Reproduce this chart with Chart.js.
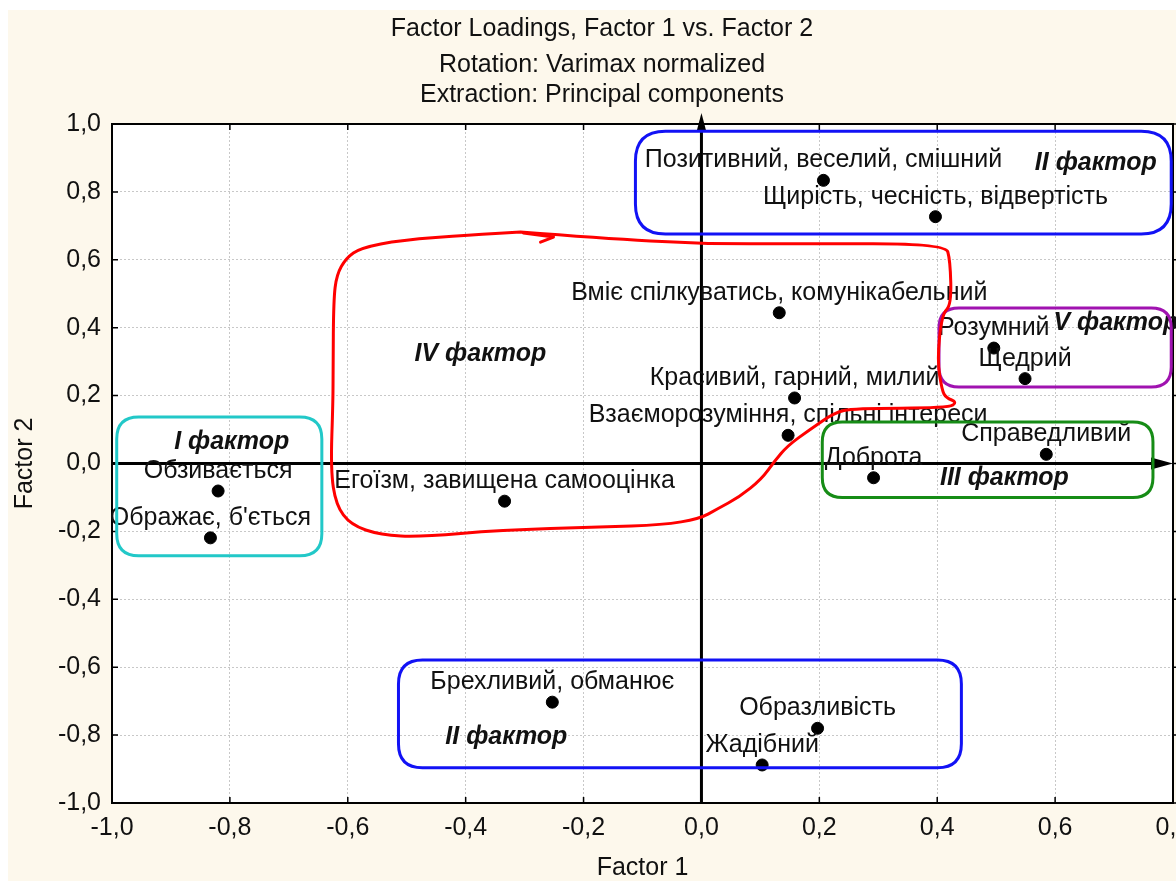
<!DOCTYPE html>
<html>
<head>
<meta charset="utf-8">
<script src="https://cdn.jsdelivr.net/npm/chart.js@4.4.1/dist/chart.umd.min.js"></script>
<style>
html, body { margin: 0; padding: 0; overflow: hidden; background: #fff; }
</style>
</head>
<body>
<canvas id="loadingsChart" width="1204" height="881"></canvas>
<script>
// variables (points) and their loadings on Factor 1 / Factor 2
const pointNames = [
    'Обзивається',
    "Ображає, б'ється",
    'Егоїзм, завищена самооцінка',
    'Брехливий, обманює',
    'Образливість',
    'Жадібний',
    'Позитивний, веселий, смішний',
    'Щирість, чесність, відвертість',
    'Вміє спілкуватись, комунікабельний',
    'Розумний',
    'Щедрий',
    'Красивий, гарний, милий',
    'Взаєморозуміння, спільні інтереси',
    'Справедливий',
    'Доброта'
];
const factor1 = [-0.820, -0.833, -0.334, -0.253, 0.197, 0.103, 0.207, 0.397, 0.132, 0.496, 0.549, 0.158, 0.147, 0.585, 0.292];
const factor2 = [-0.081, -0.219, -0.111, -0.703, -0.780, -0.888, 0.834, 0.727, 0.444, 0.340, 0.250, 0.193, 0.083, 0.027, -0.042];

const xTicks = [-1.0, -0.8, -0.6, -0.4, -0.2, 0.0, 0.2, 0.4, 0.6, 0.8];
const yTicks = [-1.0, -0.8, -0.6, -0.4, -0.2, 0.0, 0.2, 0.4, 0.6, 0.8, 1.0];

// hand drawn factor groups (data units)
const factorNames = ['I фактор', 'II фактор', 'III фактор', 'IV фактор', 'V фактор', 'II фактор'];
const factorX = [-0.797, 0.669, 0.514, -0.375, 0.703, -0.331];
const factorY = [0.063, 0.885, -0.043, 0.323, 0.414, -0.806];

const boxes = [
    { color: '#22c8c8', x0: -0.992, x1: -0.644, y0: 0.137, y1: -0.272, r: 22 },
    { color: '#1212f5', x0: -0.112, x1: 0.797, y0: 0.979, y1: 0.676, r: 30 },
    { color: '#a012b0', x0: 0.403, x1: 0.797, y0: 0.458, y1: 0.225, r: 20 },
    { color: '#168c16', x0: 0.205, x1: 0.766, y0: 0.122, y1: -0.100, r: 20 },
    { color: '#1212f5', x0: -0.514, x1: 0.441, y0: -0.579, y1: -0.896, r: 24 }
];

const redX = [-0.307, -0.171, -0.002, 0.168, 0.414, 0.422, 0.424, 0.408, 0.400, 0.408, 0.415, 0.434, 0.419,
    0.258, 0.225, 0.183, 0.146, 0.124, 0.102, 0.064, 0.027, -0.003, -0.066, -0.171, -0.341, -0.476, -0.544,
    -0.595, -0.620, -0.629, -0.625, -0.625, -0.624, -0.619, -0.603, -0.578, -0.510, -0.392, -0.307];
const redY = [0.682, 0.664, 0.647, 0.647, 0.647, 0.599, 0.467, 0.440, 0.305, 0.216, 0.193, 0.181, 0.163,
    0.163, 0.149, 0.099, 0.052, 0.007, -0.046, -0.099, -0.134, -0.163, -0.181, -0.187, -0.196, -0.216, -0.211,
    -0.181, -0.122, -0.019, 0.187, 0.284, 0.482, 0.555, 0.605, 0.635, 0.658, 0.673, 0.682];
const hookX = [-0.302, -0.251, -0.273];
const hookY = [0.679, 0.667, 0.652];

const fmt = v => v.toFixed(1).replace('.', ',');
const FONT = "'Liberation Sans', Arial, sans-serif";
const FS = 25;

function roundBox(ctx, x0, y0, x1, y1, r) {
    ctx.beginPath();
    ctx.moveTo(x0 + r, y0);
    ctx.lineTo(x1 - r, y0);
    ctx.quadraticCurveTo(x1, y0, x1, y0 + r);
    ctx.lineTo(x1, y1 - r);
    ctx.quadraticCurveTo(x1, y1, x1 - r, y1);
    ctx.lineTo(x0 + r, y1);
    ctx.quadraticCurveTo(x0, y1, x0, y1 - r);
    ctx.lineTo(x0, y0 + r);
    ctx.quadraticCurveTo(x0, y0, x0 + r, y0);
    ctx.closePath();
}

// smooth stroke through points (midpoint quadratic)
function smoothPath(ctx, pts) {
    ctx.beginPath();
    ctx.moveTo(pts[0][0], pts[0][1]);
    for (let i = 1; i < pts.length - 1; i++) {
        const mx = (pts[i][0] + pts[i + 1][0]) / 2;
        const my = (pts[i][1] + pts[i + 1][1]) / 2;
        ctx.quadraticCurveTo(pts[i][0], pts[i][1], mx, my);
    }
    const last = pts[pts.length - 1];
    ctx.lineTo(last[0], last[1]);
}

const decor = {
    id: 'decor',
    beforeDraw(chart) {
        const ctx = chart.ctx;
        const a = chart.chartArea;
        ctx.save();
        ctx.fillStyle = '#ffffff';
        ctx.fillRect(0, 0, chart.width, chart.height);
        ctx.fillStyle = '#fdf8ec';
        ctx.fillRect(8, 10, chart.width - 8, chart.height - 10);
        ctx.fillStyle = '#ffffff';
        ctx.fillRect(a.left, a.top, a.right - a.left, a.bottom - a.top);
        ctx.restore();
    },
    beforeDatasetsDraw(chart) {
        const ctx = chart.ctx;
        const a = chart.chartArea;
        const xs = chart.scales.x, ys = chart.scales.y;
        ctx.save();
        // frame
        ctx.strokeStyle = '#000';
        ctx.lineWidth = 2;
        ctx.strokeRect(a.left, a.top, a.right - a.left, a.bottom - a.top);
        // inward ticks
        ctx.lineWidth = 1.5;
        ctx.beginPath();
        xTicks.forEach(v => {
            const px = xs.getPixelForValue(v);
            ctx.moveTo(px, a.bottom); ctx.lineTo(px, a.bottom - 6);
            ctx.moveTo(px, a.top); ctx.lineTo(px, a.top + 6);
        });
        yTicks.forEach(v => {
            const py = ys.getPixelForValue(v);
            ctx.moveTo(a.left, py); ctx.lineTo(a.left + 6, py);
            ctx.moveTo(a.right, py); ctx.lineTo(a.right + 6, py);
        });
        ctx.stroke();
        // centre axes with arrows
        const x0 = xs.getPixelForValue(0), y0 = ys.getPixelForValue(0);
        ctx.lineWidth = 3;
        ctx.beginPath();
        ctx.moveTo(a.left, y0); ctx.lineTo(a.right - 18, y0);
        ctx.moveTo(x0, a.bottom); ctx.lineTo(x0, a.top - 4);
        ctx.stroke();
        ctx.fillStyle = '#000';
        ctx.beginPath();
        ctx.moveTo(a.right, y0);
        ctx.lineTo(a.right - 22, y0 - 6);
        ctx.lineTo(a.right - 22, y0 + 6);
        ctx.closePath();
        ctx.fill();
        ctx.beginPath();
        ctx.moveTo(x0, a.top - 11);
        ctx.lineTo(x0 - 5, a.top + 8);
        ctx.lineTo(x0 + 5, a.top + 8);
        ctx.closePath();
        ctx.fill();
        ctx.restore();
    },
    afterDatasetsDraw(chart) {
        const ctx = chart.ctx;
        const xs = chart.scales.x, ys = chart.scales.y;
        ctx.save();
        ctx.fillStyle = '#111';
        ctx.textAlign = 'center';
        ctx.textBaseline = 'middle';
        ctx.font = FS + 'px ' + FONT;
        pointNames.forEach((name, i) => {
            ctx.fillText(name, xs.getPixelForValue(factor1[i]), ys.getPixelForValue(factor2[i]) - 20);
        });
        ctx.font = 'italic bold ' + FS + 'px ' + FONT;
        factorNames.forEach((name, i) => {
            ctx.fillText(name, xs.getPixelForValue(factorX[i]), ys.getPixelForValue(factorY[i]));
        });
        // group outlines
        ctx.lineWidth = 3;
        ctx.lineJoin = 'round';
        ctx.lineCap = 'round';
        boxes.forEach(b => {
            ctx.strokeStyle = b.color;
            roundBox(ctx, xs.getPixelForValue(b.x0), ys.getPixelForValue(b.y0),
                xs.getPixelForValue(b.x1), ys.getPixelForValue(b.y1), b.r);
            ctx.stroke();
        });
        ctx.strokeStyle = '#ff0000';
        smoothPath(ctx, redX.map((v, i) => [xs.getPixelForValue(v), ys.getPixelForValue(redY[i])]));
        ctx.stroke();
        ctx.beginPath();
        hookX.forEach((v, i) => {
            const px = xs.getPixelForValue(v), py = ys.getPixelForValue(hookY[i]);
            if (i === 0) ctx.moveTo(px, py); else ctx.lineTo(px, py);
        });
        ctx.stroke();
        ctx.restore();
    }
};

const ctx = document.getElementById('loadingsChart');

new Chart(ctx, {
    type: 'scatter',
    data: {
        datasets: [{
            label: 'Loadings',
            data: factor1.map((v, i) => ({ x: v, y: factor2[i] })),
            backgroundColor: '#000',
            borderColor: '#000',
            pointRadius: 6,
            pointHoverRadius: 6
        }]
    },
    options: {
        responsive: false,
        animation: false,
        layout: {
            padding: { left: 0, right: 0, top: 0, bottom: 0 }
        },
        plugins: {
            legend: { display: false },
            tooltip: { enabled: false },
            title: {
                display: true,
                text: 'Factor Loadings, Factor 1 vs. Factor 2',
                color: '#111',
                font: { family: FONT, size: FS, weight: 'normal', lineHeight: 1.2 },
                padding: { top: 14, bottom: 3 }
            },
            subtitle: {
                display: true,
                text: ['Rotation: Varimax normalized', 'Extraction: Principal components'],
                color: '#111',
                font: { family: FONT, size: FS, weight: 'normal', lineHeight: 1.2 },
                padding: { top: 3, bottom: 14 }
            }
        },
        scales: {
            x: {
                type: 'linear',
                min: -1.0,
                max: 0.8,
                afterFit: s => { s.height = 78; },
                afterBuildTicks: s => { s.ticks = xTicks.map(v => ({ value: v })); },
                ticks: {
                    color: '#111',
                    font: { family: FONT, size: FS },
                    padding: 10,
                    maxRotation: 0,
                    callback: v => fmt(v)
                },
                grid: { color: '#c8c8c8', lineWidth: 1, drawTicks: false },
                border: { display: false, dash: [2, 2] },
                title: {
                    display: true,
                    text: 'Factor 1',
                    color: '#111',
                    font: { family: FONT, size: FS, lineHeight: 1.0 },
                    padding: { top: 0, bottom: 0 }
                }
            },
            y: {
                type: 'linear',
                min: -1.0,
                max: 1.0,
                afterFit: s => { s.width = 112; },
                afterBuildTicks: s => { s.ticks = yTicks.map(v => ({ value: v })); },
                ticks: {
                    color: '#111',
                    font: { family: FONT, size: FS },
                    padding: 11,
                    callback: v => fmt(v)
                },
                grid: { color: '#c8c8c8', lineWidth: 1, drawTicks: false },
                border: { display: false, dash: [2, 2] },
                title: {
                    display: true,
                    text: 'Factor 2',
                    color: '#111',
                    font: { family: FONT, size: FS, lineHeight: 1.2 },
                    padding: { top: 10, bottom: 0 }
                }
            },
            // empty right-hand margin (the picture is cut just past the frame)
            yRight: {
                type: 'linear',
                position: 'right',
                min: -1.0,
                max: 1.0,
                afterFit: s => { s.width = 31; },
                ticks: { display: false },
                grid: { display: false },
                border: { display: false }
            }
        }
    },
    plugins: [decor]
});
</script>
</body>
</html>
